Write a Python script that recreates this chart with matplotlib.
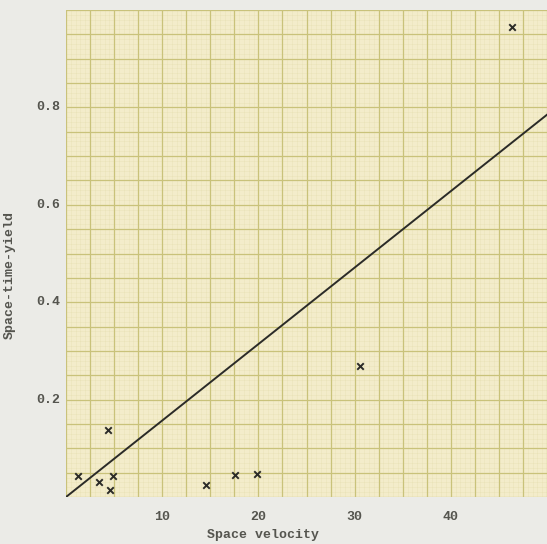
import numpy as np
import matplotlib.pyplot as plt
from matplotlib.ticker import MultipleLocator

# measured points
space_velocity = [1.25, 3.4, 4.4, 4.9, 4.6, 14.5, 17.6, 19.9, 30.6, 46.4]
space_time_yield = [0.044, 0.031, 0.137, 0.044, 0.015, 0.025, 0.046, 0.048, 0.27, 0.966]

# straight reference line through the origin
line_x = [0, 50]
line_slope = 0.0157

x_ticks = [10, 20, 30, 40]
y_ticks = [0.2, 0.4, 0.6, 0.8]

paper = "#f3ecca"
grid_col = "#c9c27a"
text_col = "#55554f"
mono = "Liberation Mono"

fig = plt.figure(figsize=(5.47, 5.44), dpi=100, facecolor="#ebebe7")
ax = fig.add_axes([0.1207, 0.0864, 0.8793, 0.8952])
ax.set_facecolor(paper)

ax.set_xlim(0, 50)
ax.set_ylim(0, 1.0)

# graph paper rulings
ax.xaxis.set_major_locator(MultipleLocator(2.5))
ax.yaxis.set_major_locator(MultipleLocator(0.05))
ax.xaxis.set_minor_locator(MultipleLocator(0.5))
ax.yaxis.set_minor_locator(MultipleLocator(0.01))
ax.grid(which="major", color=grid_col, lw=0.9)
ax.grid(which="minor", color=grid_col, lw=0.4, alpha=0.18)
ax.set_axisbelow(True)

ax.tick_params(which="both", length=0)
ax.set_yticklabels([])
for v in y_ticks:
    ax.text(-0.013, v, f"0.{int(round(v * 10))}", transform=ax.get_yaxis_transform(),
            ha="right", va="center", family=mono, fontsize=9.5,
            fontweight="bold", color=text_col)

# grid every 2.5 but labels only at the tens
grid_x = np.arange(0, 50.1, 2.5)
ax.set_xticks(grid_x)
ax.set_xticklabels([str(int(v)) if v in x_ticks else "" for v in grid_x],
                   family=mono, fontsize=9.5, fontweight="bold", color=text_col)
ax.tick_params(axis="x", pad=10)

for s in ax.spines.values():
    s.set_visible(False)

ax.plot(line_x, [line_slope * v for v in line_x], color="#2b2b28", lw=1.4)
ax.scatter(space_velocity, space_time_yield, marker="x", s=22, color="#2b2b28",
           linewidths=1.4, zorder=3)

ax.set_xlabel("Space velocity", family=mono, fontsize=9.5, fontweight="bold",
              color=text_col)
ax.xaxis.set_label_coords(0.41, -0.065)
ax.set_ylabel("Space-time-yield", family=mono, fontsize=9.5, fontweight="bold",
              color=text_col)
ax.yaxis.set_label_coords(-0.105, 0.456)

fig.savefig("out.png", dpi=100, facecolor=fig.get_facecolor())
